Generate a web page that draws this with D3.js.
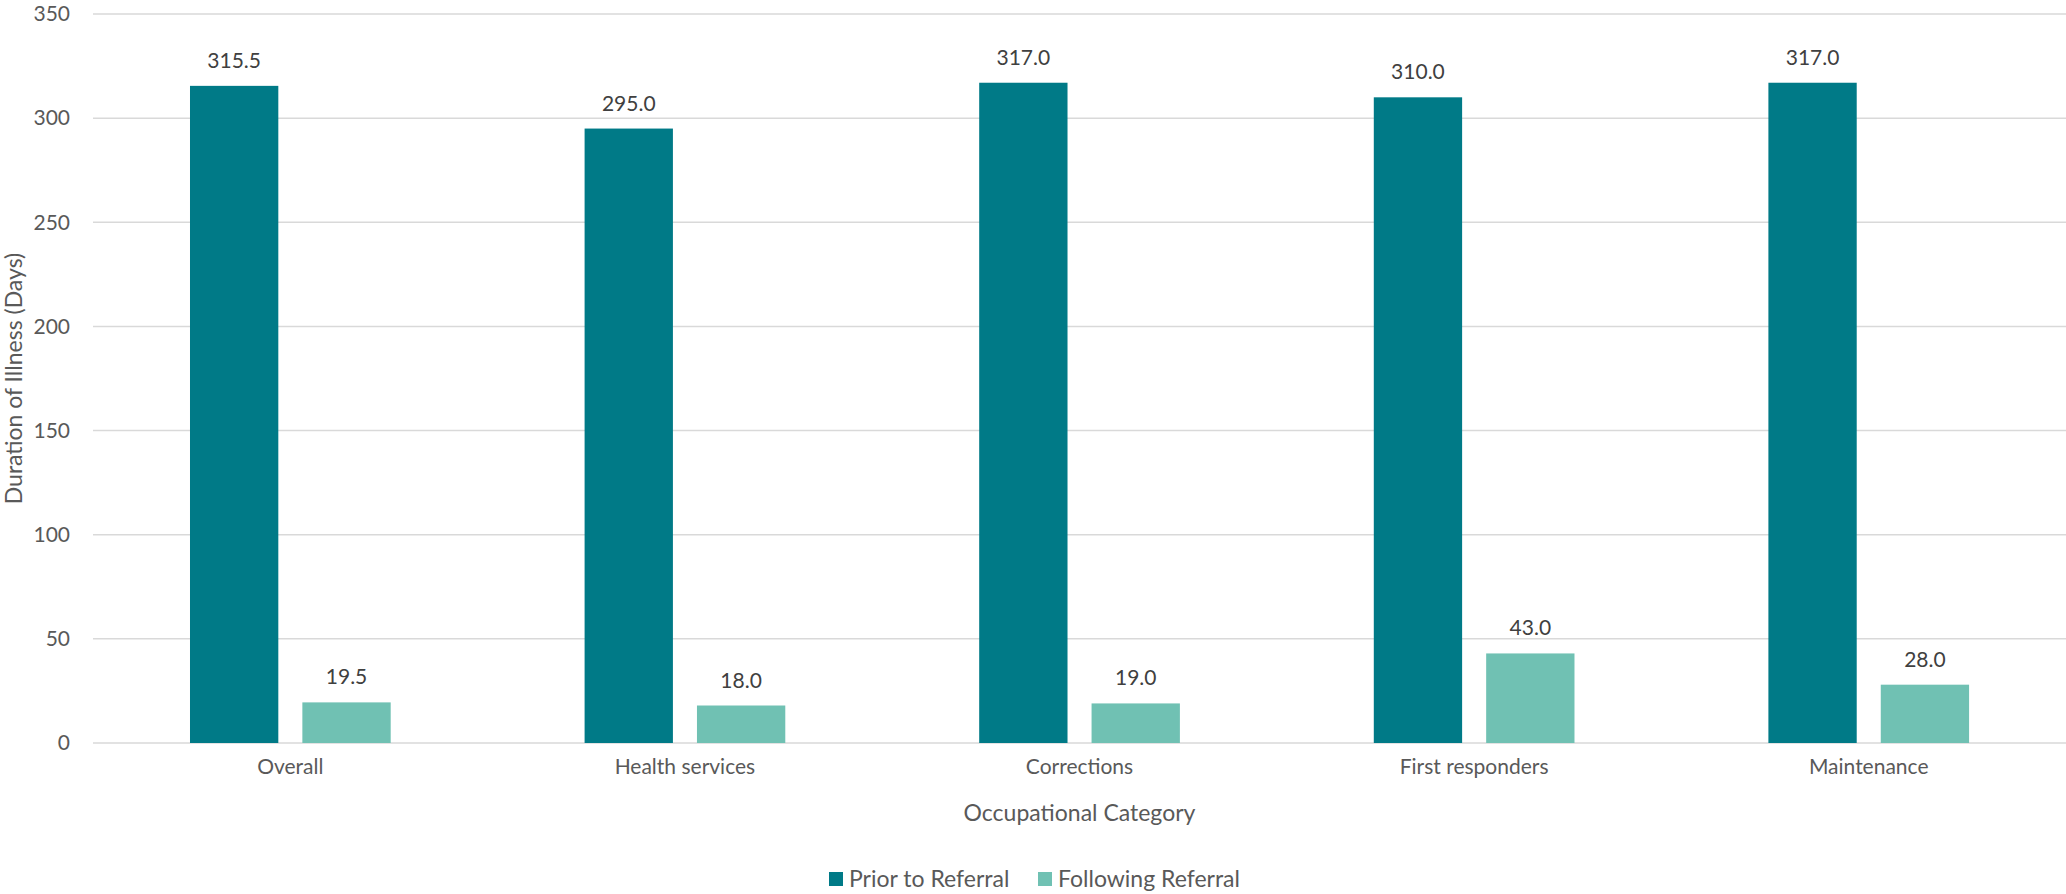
<!DOCTYPE html>
<html>
<head>
<meta charset="utf-8">
<script src="https://cdn.jsdelivr.net/npm/d3@7"></script>
<style>
  body { margin: 0; background: #fff; }
  svg { display: block; font-family: Lato, "Open Sans", sans-serif; }
</style>
</head>
<body>
<svg id="chart" width="2066" height="894"></svg>
<script>
// data
const categories = ["Overall", "Health services", "Corrections", "First responders", "Maintenance"];
const seriesNames = ["Prior to Referral", "Following Referral"];
const priorValues = [315.5, 295.0, 317.0, 310.0, 317.0];
const followingValues = [19.5, 18.0, 19.0, 43.0, 28.0];
const yTicks = [0, 50, 100, 150, 200, 250, 300, 350];
const colors = ["#007A87", "#70C1B3"];

const svg = d3.select("#chart");
const margin = { left: 93, right: 0, top: 14, bottom: 151 };
const width = 2066 - margin.left - margin.right;
const height = 894 - margin.top - margin.bottom;

const x0 = d3.scaleBand().domain(categories).range([0, width]);
const x1 = d3.scaleBand().domain(seriesNames)
  .range([x0.bandwidth() * 0.2458, x0.bandwidth() * 0.7544])
  .paddingInner(0.214);
const y = d3.scaleLinear().domain([0, 350]).range([height, 0]);

const g = svg.append("g").attr("transform", "translate(" + margin.left + "," + margin.top + ")");

// gridlines
g.append("g")
  .selectAll("line")
  .data(yTicks)
  .enter().append("line")
  .attr("x1", 0).attr("x2", width)
  .attr("y1", d => y(d)).attr("y2", d => y(d))
  .attr("stroke", "#d9d9d9").attr("stroke-width", 1.5);

// y axis labels
const yAxis = g.append("g")
  .call(d3.axisLeft(y).tickValues(yTicks).tickSize(0).tickPadding(23))
  .attr("font-family", null).attr("font-size", null);
yAxis.select(".domain").remove();
yAxis.selectAll("text").attr("fill", "#595959").style("font-size", "21px");

// x axis labels
const xAxis = g.append("g")
  .attr("transform", "translate(0," + height + ")")
  .call(d3.axisBottom(x0).tickSize(0).tickPadding(16))
  .attr("font-family", null).attr("font-size", null);
xAxis.select(".domain").remove();
xAxis.selectAll("text").attr("fill", "#595959").style("font-size", "21px");

const rows = categories.map((c, i) => ({ cat: c, vals: [priorValues[i], followingValues[i]] }));

const groups = g.selectAll(".grp")
  .data(rows)
  .enter().append("g")
  .attr("class", "grp")
  .attr("transform", d => "translate(" + x0(d.cat) + ",0)");

groups.selectAll("rect")
  .data(d => d.vals.map((v, j) => ({ s: seriesNames[j], v: v, j: j })))
  .enter().append("rect")
  .attr("x", d => x1(d.s))
  .attr("y", d => y(d.v))
  .attr("width", x1.bandwidth())
  .attr("height", d => height - y(d.v))
  .attr("fill", d => colors[d.j]);

groups.selectAll(".lbl")
  .data(d => d.vals.map((v, j) => ({ s: seriesNames[j], v: v })))
  .enter().append("text")
  .attr("class", "lbl")
  .attr("x", d => x1(d.s) + x1.bandwidth() / 2)
  .attr("y", d => y(d.v) - 18)
  .attr("text-anchor", "middle")
  .attr("fill", "#404040")
  .style("font-size", "21px")
  .text(d => d3.format(".1f")(d.v));

// axis titles
svg.append("text")
  .attr("x", margin.left + width / 2)
  .attr("y", 821)
  .attr("text-anchor", "middle")
  .attr("fill", "#595959")
  .style("font-size", "23px")
  .text("Occupational Category");

svg.append("text")
  .attr("transform", "translate(22," + (margin.top + height / 2) + ") rotate(-90)")
  .attr("text-anchor", "middle")
  .attr("fill", "#595959")
  .style("font-size", "23px")
  .text("Duration of Illness (Days)");

// legend
const legend = svg.append("g").attr("transform", "translate(829,0)");
const legendX = [0, 209];
seriesNames.forEach((name, i) => {
  legend.append("rect")
    .attr("x", legendX[i]).attr("y", 872)
    .attr("width", 14).attr("height", 14)
    .attr("fill", colors[i]);
  legend.append("text")
    .attr("x", legendX[i] + 20).attr("y", 887)
    .attr("fill", "#595959")
    .style("font-size", "23px")
    .text(name);
});
</script>
</body>
</html>
